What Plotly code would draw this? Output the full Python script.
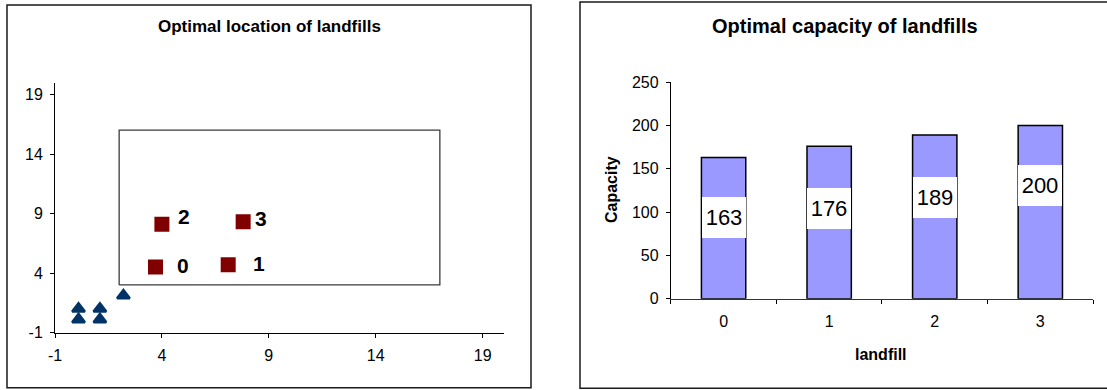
import plotly.graph_objects as go

# ---- left chart: landfill locations ----
site_ids = ["0", "1", "2", "3"]
site_x = [3.7, 7.1, 4.0, 7.8]
site_y = [4.5, 4.7, 8.1, 8.3]

source_x = [0.1, 0.1, 1.1, 1.1, 2.2]
source_y = [0.1, 1.0, 0.1, 1.0, 2.1]

region_x = [2, 17, 17, 2, 2]
region_y = [3, 3, 16, 16, 3]

loc_ticks = [-1, 4, 9, 14, 19]
loc_tick_text = ["-1", "4", "9", "14", "19"]

# ---- right chart: landfill capacities ----
landfills = ["0", "1", "2", "3"]
capacity = [163, 176, 189, 200]
cap_ticks = [0, 50, 100, 150, 200, 250]

# label placement (pixel shifts for site ids, heights for capacity boxes)
id_xshift = [28, 31, 22, 18]
id_yshift = [2, 1, 8, 3]
cap_label_y = [94, 104, 117, 131]

W, H = 1107, 390
FONT = "Liberation Sans, Arial, sans-serif"


def px(x):
    return x / W


def py(y):
    return (H - y) / H


fig = go.Figure()

fig.add_trace(go.Scatter(
    x=region_x, y=region_y, mode="lines",
    line=dict(color="#3a3a3a", width=1.3),
    xaxis="x", yaxis="y", hoverinfo="skip", showlegend=False,
))
fig.add_trace(go.Scatter(
    x=source_x, y=source_y, mode="markers",
    marker=dict(symbol="triangle-up", size=11, color="#003366",
                line=dict(color="#003366", width=2.5)),
    xaxis="x", yaxis="y", showlegend=False,
))
fig.add_trace(go.Scatter(
    x=site_x, y=site_y, mode="markers",
    marker=dict(symbol="square", size=15, color="#800000",
                line=dict(width=0)),
    xaxis="x", yaxis="y", showlegend=False,
))

fig.add_trace(go.Bar(
    x=landfills, y=capacity, width=0.42,
    marker=dict(color="#9999FF", line=dict(color="#000000", width=1.5)),
    xaxis="x2", yaxis="y2", showlegend=False,
))

annotations = []
for sid, sx, sy, dx, dy in zip(site_ids, site_x, site_y, id_xshift, id_yshift):
    annotations.append(dict(
        x=sx, y=sy, xref="x", yref="y", text=sid, showarrow=False,
        xshift=dx, yshift=dy,
        font=dict(family=FONT, size=21, color="#000000", weight="bold"),
    ))

for cat, val, ly in zip(landfills, capacity, cap_label_y):
    annotations.append(dict(
        x=cat, y=ly, xref="x2", yref="y2", text=str(val), showarrow=False,
        bgcolor="#FFFFFF", width=42, height=39, borderwidth=0, borderpad=1,
        valign="middle",
        font=dict(family=FONT, size=22, color="#000000"),
    ))

annotations += [
    dict(x=px(269), y=py(27), xref="paper", yref="paper",
         text="<b>Optimal location of landfills</b>", showarrow=False,
         xanchor="center", yanchor="middle",
         font=dict(family=FONT, size=17, color="#000000")),
    dict(x=px(845), y=py(26), xref="paper", yref="paper",
         text="<b>Optimal capacity of landfills</b>", showarrow=False,
         xanchor="center", yanchor="middle",
         font=dict(family=FONT, size=20, color="#000000")),
    dict(x=px(611), y=py(190), xref="paper", yref="paper",
         text="<b>Capacity</b>", showarrow=False, textangle=-90,
         xanchor="center", yanchor="middle",
         font=dict(family=FONT, size=16, color="#000000")),
    dict(x=px(881), y=py(354), xref="paper", yref="paper",
         text="<b>landfill</b>", showarrow=False,
         xanchor="center", yanchor="middle",
         font=dict(family=FONT, size=16, color="#000000")),
]

shapes = [
    dict(type="rect", xref="paper", yref="paper",
         x0=px(7), x1=px(531), y0=py(387.7), y1=py(5),
         line=dict(color="#1a1a1a", width=1.5), fillcolor="rgba(0,0,0,0)"),
    dict(type="rect", xref="paper", yref="paper",
         x0=px(580), x1=px(1112), y0=py(388.3), y1=py(2),
         line=dict(color="#1a1a1a", width=1.5), fillcolor="rgba(0,0,0,0)"),
]

axis_common = dict(
    showgrid=False, zeroline=False, showline=True, linecolor="#000000",
    linewidth=1, ticks="outside", ticklen=4, tickwidth=1,
    tickcolor="#000000", automargin=False,
    tickfont=dict(family=FONT, size=16, color="#000000"),
)

fig.update_layout(
    width=W, height=H,
    margin=dict(l=0, r=0, t=0, b=0),
    paper_bgcolor="#FFFFFF", plot_bgcolor="#FFFFFF",
    showlegend=False,
    xaxis=dict(axis_common, domain=[px(55), px(504)], range=[-1, 20],
               tickmode="array", tickvals=loc_ticks, ticktext=loc_tick_text,
               anchor="y", ticklabelstandoff=4),
    yaxis=dict(axis_common, domain=[py(332.5), py(82.6)], range=[-1, 20],
               tickmode="array", tickvals=loc_ticks, ticktext=loc_tick_text,
               anchor="x", ticklabelstandoff=4),
    xaxis2=dict(axis_common, domain=[px(670.8), px(1093.1)],
                type="category", range=[-0.5, 3.5], tickson="boundaries",
                anchor="y2", ticklabelstandoff=8, linecolor="#333333"),
    yaxis2=dict(axis_common, domain=[py(298.7), py(82.3)], range=[0, 250],
                tickmode="array", tickvals=cap_ticks, anchor="x2",
                ticklabelstandoff=4),
    annotations=annotations,
    shapes=shapes,
)

fig.write_html("out.html")
